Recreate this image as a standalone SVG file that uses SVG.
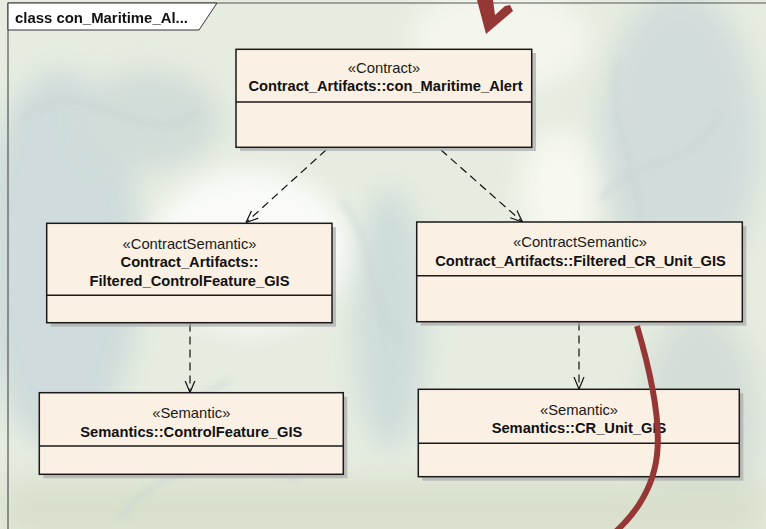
<svg xmlns="http://www.w3.org/2000/svg" width="766" height="529" viewBox="0 0 766 529">
<style>
.box{fill:#faf0e4;stroke:#1a1a1a;stroke-width:1.5}
.shadow{fill:#a9a9a9;opacity:0.7}
.div{stroke:#1a1a1a;stroke-width:1.5}
.st{font-family:"Liberation Sans",Arial,sans-serif;font-size:14.8px;fill:#1a1a1a;text-anchor:middle}
.nm{font-family:"Liberation Sans",Arial,sans-serif;font-size:14.7px;font-weight:bold;fill:#111;text-anchor:middle}
.dep{fill:none;stroke:#111;stroke-width:1.2;stroke-dasharray:8,5}
</style>
<defs>
<filter id="blur" x="-20%" y="-20%" width="140%" height="140%"><feGaussianBlur stdDeviation="14"/></filter>
<filter id="blur2" x="-20%" y="-20%" width="140%" height="140%"><feGaussianBlur stdDeviation="3"/></filter>
<marker id="open" viewBox="0 0 12 12" refX="12" refY="6" markerWidth="12" markerHeight="12" markerUnits="userSpaceOnUse" orient="auto">
<path d="M0,1 L12,6 L0,11" fill="none" stroke="#111" stroke-width="1.2" stroke-dasharray="none"/>
</marker>
</defs>
<g id="background">
<rect x="0" y="0" width="766" height="529" fill="#e6ece0"/>
<g filter="url(#blur)">
<ellipse cx="60" cy="260" rx="80" ry="190" fill="#c4d4da" opacity="0.7"/>
<ellipse cx="680" cy="140" rx="80" ry="150" fill="#cdd8da" opacity="0.8"/>
<ellipse cx="700" cy="420" rx="60" ry="110" fill="#cfd9d4" opacity="0.8"/>
<ellipse cx="250" cy="250" rx="100" ry="80" fill="#ffffff" opacity="0.8"/>
<ellipse cx="500" cy="40" rx="90" ry="50" fill="#f4f6ee"/>
<ellipse cx="390" cy="320" rx="35" ry="130" fill="#b6cbd6" opacity="0.5"/>
<ellipse cx="560" cy="190" rx="40" ry="60" fill="#f7f8ef"/>
<rect x="0" y="480" width="766" height="60" fill="#d8e0cc"/>
<ellipse cx="150" cy="120" rx="70" ry="50" fill="#d2dcd8"/>
</g>
<g filter="url(#blur2)" fill="none" stroke="#c9d6d4" stroke-width="5" opacity="0.6">
<path d="M20,120 C80,60 140,160 200,110"/>
<path d="M600,200 C640,150 700,170 720,110"/>
<path d="M40,460 C90,400 150,430 230,380"/>
<path d="M620,60 C600,120 650,180 640,260"/>
<path d="M120,520 C150,470 230,450 300,480"/>
<path d="M340,200 C380,240 360,300 400,340"/>
</g>
</g>
<g id="frame">
<path d="M8,529 L8,3 L766,3" fill="none" stroke="#555" stroke-width="1.2"/>
<path d="M8,3 L217,3 L199,30 L8,30 Z" fill="#ffffff" stroke="#333" stroke-width="1"/>
<text x="15" y="22.5" font-family="Liberation Sans, Arial, sans-serif" font-size="14.9" font-weight="bold" fill="#111">class con_Maritime_Al...</text>
</g>
<g id="connectors">
<path class="dep" d="M326,150 L246,222.5" marker-end="url(#open)"/>
<path class="dep" d="M441,150 L522.5,222" marker-end="url(#open)"/>
<path class="dep" d="M190,323.5 L190,392.5" marker-end="url(#open)"/>
<path class="dep" d="M579,322.5 L579,389" marker-end="url(#open)"/>
</g>
<g id="node-contract">
<rect class="shadow" x="240" y="53" width="296" height="98"/>
<rect class="box" x="236" y="49.3" width="295.7" height="98"/>
<line class="div" x1="236" y1="102" x2="531.7" y2="102"/>
<text class="st" x="384" y="72.5">«Contract»</text>
<text class="nm" x="385.5" y="91">Contract_Artifacts::con_Maritime_Alert</text>
</g>
<g id="node-filtered-controlfeature">
<rect class="shadow" x="50.7" y="227.3" width="285.3" height="99.4"/>
<rect class="box" x="46.7" y="223.3" width="285.3" height="99.4"/>
<line class="div" x1="46.7" y1="295.3" x2="332" y2="295.3"/>
<text class="st" x="189.5" y="249">«ContractSemantic»</text>
<text class="nm" x="189.5" y="266.5">Contract_Artifacts::</text>
<text class="nm" x="189.5" y="285.5">Filtered_ControlFeature_GIS</text>
</g>
<g id="node-filtered-crunit">
<rect class="shadow" x="420.7" y="226" width="325.6" height="99.7"/>
<rect class="box" x="416.7" y="222" width="325.6" height="99.7"/>
<line class="div" x1="416.7" y1="275.7" x2="742.3" y2="275.7"/>
<text class="st" x="580" y="246.5">«ContractSemantic»</text>
<text class="nm" x="580.5" y="265.5">Contract_Artifacts::Filtered_CR_Unit_GIS</text>
</g>
<g id="node-controlfeature">
<rect class="shadow" x="43.3" y="396.7" width="304" height="81.6"/>
<rect class="box" x="39.3" y="392.7" width="304" height="81.6"/>
<line class="div" x1="39.3" y1="446" x2="343.3" y2="446"/>
<text class="st" x="191.3" y="418">«Semantic»</text>
<text class="nm" x="191.3" y="436.5">Semantics::ControlFeature_GIS</text>
</g>
<g id="node-crunit">
<rect class="shadow" x="422.3" y="393.3" width="321" height="87.4"/>
<rect class="box" x="418.3" y="389.3" width="321" height="87.4"/>
<line class="div" x1="418.3" y1="443.3" x2="739.3" y2="443.3"/>
<text class="st" x="579" y="414.5">«Semantic»</text>
<text class="nm" x="579" y="433">Semantics::CR_Unit_GIS</text>
</g>
<g id="annotations">
<path d="M637,326 C650,370 661,420 657,455 C653,490 635,515 612,535" fill="none" stroke="#953735" stroke-width="6"/>
<polygon points="477,0 493,0 495,15 505,6 510,5 513,11 486,34" fill="#953735"/>
</g>
</svg>
